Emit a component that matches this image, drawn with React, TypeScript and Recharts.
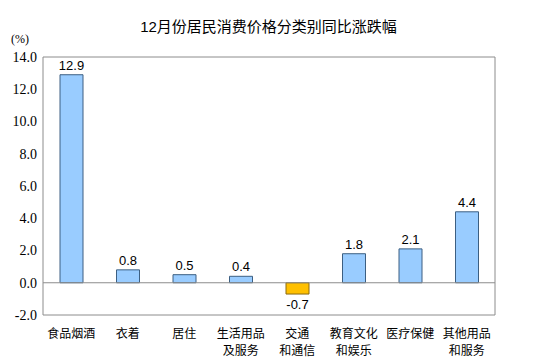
import { Bar, BarChart, Cell, LabelList, ReferenceArea, ReferenceLine, XAxis, YAxis } from "recharts"

const categories = ["食品烟酒", "衣着", "居住", "生活用品\n及服务", "交通\n和通信", "教育文化\n和娱乐", "医疗保健", "其他用品\n和服务"]
const values = [12.9, 0.8, 0.5, 0.4, -0.7, 1.8, 2.1, 4.4]
const yTicks = [-2, 0, 2, 4, 6, 8, 10, 12, 14]

const chartData = categories.map((name, i) => ({ name, value: values[i] }))

const cjk = "Arial, 'Liberation Sans', 'Noto Sans CJK SC', sans-serif"
const serif = "'Liberation Serif', 'Times New Roman', serif"

const CategoryTick = ({ x, y, payload }: any) => {
  const lines = String(payload.value).split("\n")
  return (
    <text x={x} y={y} textAnchor="middle" fontSize={12} fill="#000" fontFamily={cjk}>
      {lines.map((line, i) => (
        <tspan key={i} x={x} dy={i === 0 ? 15 : 17}>
          {line}
        </tspan>
      ))}
    </text>
  )
}

const ValueLabel = (props: any) => {
  const { x, y, width, height, value } = props
  const top = Math.min(y, y + height)
  const bottom = Math.max(y, y + height)
  // negative bars: label goes under the bar
  const ty = value < 0 ? bottom + 15 : top - 5
  return (
    <text x={x + width / 2} y={ty} textAnchor="middle" fontSize={13} fill="#000" fontFamily={cjk}>
      {value.toFixed(1)}
    </text>
  )
}

export default function App() {
  return (
    <div style={{ position: "absolute", left: 0, top: 0, width: 545, height: 361, background: "#fff" }}>
      <div
        style={{
          position: "absolute",
          left: -4,
          width: 545,
          top: 15,
          textAlign: "center",
          fontSize: 15,
          fontFamily: cjk,
          color: "#000",
        }}
      >
        12月份居民消费价格分类别同比涨跌幅
      </div>
      <div style={{ position: "absolute", left: 11, top: 32, fontSize: 12, fontFamily: serif }}>(%)</div>
      <BarChart
        width={545}
        height={361}
        data={chartData}
        margin={{ top: 57, right: 50, bottom: 6, left: 0 }}
        barSize={23}
      >
        <ReferenceArea y1={-2} y2={14} fill="none" stroke="#8c8c8c" strokeWidth={1} ifOverflow="visible" />
        <XAxis
          dataKey="name"
          axisLine={false}
          tickLine={false}
          height={40}
          interval={0}
          tick={<CategoryTick />}
        />
        <YAxis
          width={43}
          domain={[-2, 14]}
          ticks={yTicks}
          axisLine={false}
          tickLine={false}
          tickFormatter={(v: number) => v.toFixed(1)}
          tick={{ fill: "#000", fontSize: 14, fontFamily: serif, dx: 2 }}
        />
        <ReferenceLine y={0} stroke="#8c8c8c" strokeWidth={1} />
        <Bar dataKey="value" isAnimationActive={false}>
          {chartData.map((entry, index) => (
            <Cell
              key={`cell-${index}`}
              fill={entry.value < 0 ? "#ffc000" : "#99ccff"}
              stroke={entry.value < 0 ? "#8a6a10" : "#3c5f82"}
              strokeWidth={1}
            />
          ))}
          <LabelList dataKey="value" content={<ValueLabel />} />
        </Bar>
      </BarChart>
    </div>
  )
}
